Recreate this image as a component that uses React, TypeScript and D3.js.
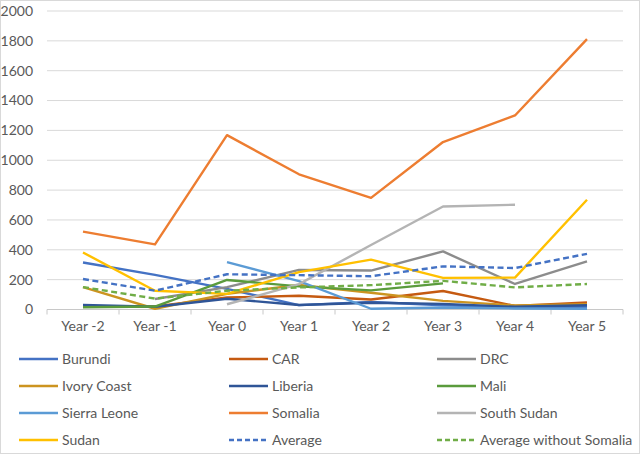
import * as d3 from 'd3';

const categories = ['Year -2', 'Year -1', 'Year 0', 'Year 1', 'Year 2', 'Year 3', 'Year 4', 'Year 5'];

type V = number | null;

const burundi: V[] = [315, 232, 138, 29, 50, 28, 15, 15];
const car: V[] = [22, 20, 80, 92, 67, 124, 24, 47];
const drc: V[] = [null, 70, 150, 265, 261, 389, 171, 322];
const ivoryCoast: V[] = [150, 5, 105, 164, 112, 58, 27, 36];
const liberia: V[] = [30, 18, 72, 30, 45, 38, 18, 28];
const mali: V[] = [15, 20, 198, 155, 128, 175, null, null];
const sierraLeone: V[] = [null, null, 317, 190, 5, 13, 7, 5];
const somalia: V[] = [522, 436, 1168, 906, 748, 1122, 1300, 1812];
const southSudan: V[] = [null, null, 35, 170, 432, 690, 702, null];
const sudan: V[] = [382, 126, 105, 250, 334, 212, 214, 735];
const average: V[] = [204, 126, 236, 230, 223, 289, 278, 373];
const averageWithoutSomalia: V[] = [150, 73, 126, 148, 163, 192, 148, 171];

const seriesNames = [
  'Burundi', 'CAR', 'DRC', 'Ivory Coast', 'Liberia', 'Mali',
  'Sierra Leone', 'Somalia', 'South Sudan', 'Sudan', 'Average', 'Average without Somalia',
];
const seriesValues = [
  burundi, car, drc, ivoryCoast, liberia, mali,
  sierraLeone, somalia, southSudan, sudan, average, averageWithoutSomalia,
];
const seriesColors = [
  '#4472C4', '#C55A11', '#8C8C8C', '#CC9420', '#2F5597', '#5A9B3C',
  '#5B9BD5', '#ED7D31', '#B4B4B4', '#FFC000', '#4472C4', '#70AD47',
];
const dashed = [false, false, false, false, false, false, false, false, false, false, true, true];

const W = 640;
const H = 454;
const font = 'Lato, "Liberation Sans", sans-serif';

export default function App() {
  const x = d3.scaleBand<string>().domain(categories).range([47, 623]);
  const y = d3.scaleLinear().domain([0, 2000]).range([309.5, 11]);
  const cx = (c: string) => (x(c) ?? 0) + x.bandwidth() / 2;

  const line = d3.line<V>()
    .defined(d => d != null)
    .x((_, i) => cx(categories[i]))
    .y(d => y(d as number));

  const yTicks = y.ticks(10);
  const bounds = d3.range(categories.length + 1).map(i => 47 + i * x.bandwidth());

  const legendCols = [19, 229, 437];
  const legendRows = [359, 386, 413, 440];

  return (
    <svg width={W} height={H} style={{ display: 'block' }}>
      <style>{'body{margin:0}'}</style>
      <rect x={0.5} y={0.5} width={W - 1} height={H - 1} fill="#fff" stroke="#D9D9D9" />
      <g>
        {yTicks.map(t => (
          <line key={t} x1={47} x2={623} y1={y(t)} y2={y(t)} stroke="#D9D9D9" strokeWidth={1} />
        ))}
        {yTicks.map(t => (
          <text key={'l' + t} x={33} y={y(t)} dy="0.35em" textAnchor="end"
            fontFamily={font} fontSize={14} fill="#595959">{t}</text>
        ))}
      </g>
      <line x1={47} x2={623} y1={y(0)} y2={y(0)} stroke="#C8C8C8" />
      {bounds.map(b => (
        <line key={b} x1={b} x2={b} y1={y(0)} y2={y(0) + 5} stroke="#C8C8C8" />
      ))}
      {categories.map(c => (
        <text key={c} x={cx(c)} y={331} textAnchor="middle" fontFamily={font} fontSize={14} fill="#595959">{c}</text>
      ))}
      <g fill="none">
        {seriesValues.map((vals, i) => (
          <path key={seriesNames[i]} d={line(vals) ?? ''} stroke={seriesColors[i]} strokeWidth={2.4}
            strokeDasharray={dashed[i] ? '6,3.5' : undefined} strokeLinejoin="round" />
        ))}
      </g>
      <g>
        {seriesNames.map((name, i) => {
          const lx = legendCols[i % 3];
          const ly = legendRows[Math.floor(i / 3)];
          return (
            <g key={name}>
              <line x1={lx} x2={lx + 39} y1={ly} y2={ly} stroke={seriesColors[i]} strokeWidth={2.4}
                strokeDasharray={dashed[i] ? '5,3' : undefined} />
              <text x={lx + 43} y={ly} dy="0.35em" fontFamily={font} fontSize={14} fill="#595959">{name}</text>
            </g>
          );
        })}
      </g>
    </svg>
  );
}
